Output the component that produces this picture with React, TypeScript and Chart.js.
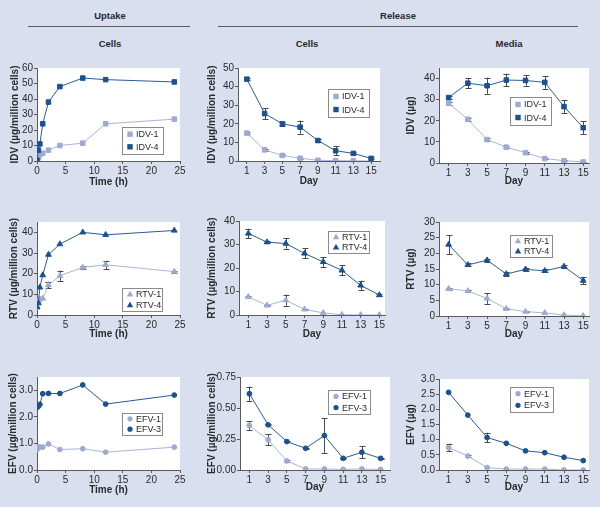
import React, { useEffect, useRef } from 'react';
import { Chart, registerables } from 'chart.js';
Chart.register(...registerables);

const FONT = '"Liberation Sans", Arial, Helvetica, sans-serif';
const DARK = '#1a5193';
const DARK_LINE = '#2a5c98';
const LIGHT = '#9eaad2';
const LIGHT_LINE = '#aab4da';
const BG = '#d9dfee';
const AXIS = '#5a5a5a';
const TXT = '#2a2a2a';

// ---------- data ----------
const uptakeHours = [0, 0.25, 0.5, 1, 2, 4, 8, 12, 24];
const days = [1, 3, 5, 7, 9, 11, 13, 15];
const hourTicks = [0, 5, 10, 15, 20, 25];
const dayTicks = [1, 3, 5, 7, 9, 11, 13, 15];

const idvUptake1 = [0.5, 2, 4, 5, 7, 10, 11.5, 24, 27];
const idvUptake4 = [0.5, 7, 11, 24, 38, 48, 53.5, 52.5, 51];

const idvCells1 = [15, 6, 3, 1.5, 0.4, 0.2, 0.1, 0];
const idvCells1Err = [0.6, 0.5, 0.5, 0.3, 0, 0, 0, 0];
const idvCells4 = [44, 25.5, 20, 18.2, 11, 5.5, 4.1, 1.4];
const idvCells4Err = [0.6, 3, 1, 3.5, 0.6, 2.5, 0.6, 0.5];

const idvMedia1 = [28.3, 20.7, 11.1, 7.5, 4.9, 2.1, 1.1, 0.5];
const idvMedia1Err = [0.8, 0.6, 0.6, 0.5, 0.4, 0.3, 0.3, 0.2];
const idvMedia4 = [31, 37.8, 36.6, 39.3, 39.1, 38.2, 26.7, 16.7];
const idvMedia4Err = [0.8, 2.5, 3.8, 3, 2.5, 3, 3, 3];

const rtvUptake1 = [3.5, 6.8, 7.6, 8, 14.5, 19, 23, 24.3, 21];
const rtvUptake1Err = [0, 0, 0, 0, 1.6, 2.5, 0.5, 2, 0.5];
const rtvUptake4 = [4, 5.7, 13.4, 19.3, 29.2, 34.3, 40, 38.8, 40.9];

const rtvCells1 = [7.7, 4.1, 6.3, 2.4, 0.9, 0.1, 0, 0];
const rtvCells1Err = [0.3, 0.3, 2.4, 0.3, 0, 0, 0, 0];
const rtvCells4 = [34.7, 31, 30.4, 26.2, 22.6, 19, 12.6, 8.5];
const rtvCells4Err = [2, 0.5, 2.2, 2.1, 2.1, 2.1, 2, 0.5];

const rtvMedia1 = [8.7, 8, 5.6, 2.3, 1.4, 1, 0.3, 0.05];
const rtvMedia1Err = [0.3, 0.3, 1.7, 0.2, 0.2, 0, 0, 0];
const rtvMedia4 = [22.8, 16.3, 17.8, 13.4, 14.9, 14.4, 15.8, 11.3];
const rtvMedia4Err = [3, 0.5, 0.5, 0.5, 0.5, 0.5, 0.5, 1.2];

const efvUptake1 = [0.76, 0.86, 0.86, 0.86, 0.98, 0.77, 0.8, 0.67, 0.86];
const efvUptake3 = [2.35, 2.4, 2.47, 2.87, 2.88, 2.88, 3.2, 2.48, 2.82];

const efvCells1 = [0.359, 0.243, 0.073, 0.008, 0.008, 0.005, 0.008, 0.005];
const efvCells1Err = [0.035, 0.045, 0.01, 0, 0, 0, 0, 0];
const efvCells3 = [0.615, 0.364, 0.229, 0.175, 0.278, 0.094, 0.143, 0.094];
const efvCells3Err = [0.058, 0.005, 0.005, 0.005, 0.14, 0.005, 0.047, 0.005];

const efvMedia1 = [0.74, 0.46, 0.08, 0.03, 0.03, 0.03, 0, 0];
const efvMedia1Err = [0.13, 0.02, 0, 0, 0, 0, 0, 0];
const efvMedia3 = [2.56, 1.81, 1.07, 0.88, 0.63, 0.57, 0.42, 0.31];
const efvMedia3Err = [0, 0, 0.16, 0, 0, 0, 0, 0];

// ---------- types ----------
type Style = 'rect' | 'triangle' | 'circle';
type Series = { label: string; x: number[]; y: number[]; err?: number[]; dark: boolean; style: Style };
type PanelCfg = {
  ca: { l: number; r: number; t: number; b: number };
  colX: number; yTitleX: number; xTitleY: number;
  xMin: number; xMax: number; xTicks: number[]; xTitle: string;
  yMax: number; yStep: number; yDec: number; yTitle: string;
  legend: { x: number; y: number; w: number; h: number };
  series: Series[];
};

const radiusFor = (s: Style) => (s === 'rect' ? 3.2 : s === 'triangle' ? 3.3 : 2.4);

// ---------- plugins ----------
const bgPlugin = {
  id: 'plotBg',
  beforeDraw(chart: any) {
    const { ctx, chartArea: a } = chart;
    ctx.save();
    ctx.fillStyle = '#ffffff';
    ctx.fillRect(a.left, a.top, a.right - a.left, a.bottom - a.top);
    ctx.restore();
  },
};

const errPlugin = {
  id: 'errBars',
  beforeDatasetsDraw(chart: any) {
    const { ctx } = chart;
    const ys = chart.scales.y;
    ctx.save();
    ctx.strokeStyle = '#4a4a4a';
    ctx.lineWidth = 1;
    chart.data.datasets.forEach((ds: any, i: number) => {
      const errs: number[] | undefined = ds.errors;
      if (!errs) return;
      const meta = chart.getDatasetMeta(i);
      meta.data.forEach((pt: any, j: number) => {
        const e = errs[j];
        if (!e) return;
        const v = ds.data[j].y;
        const x = Math.round(pt.x) + 0.5;
        const y1 = ys.getPixelForValue(v + e);
        const y2 = ys.getPixelForValue(Math.max(0, v - e));
        ctx.beginPath();
        ctx.moveTo(x, y1); ctx.lineTo(x, y2);
        ctx.moveTo(x - 3, Math.round(y1) + 0.5); ctx.lineTo(x + 3, Math.round(y1) + 0.5);
        ctx.moveTo(x - 3, Math.round(y2) + 0.5); ctx.lineTo(x + 3, Math.round(y2) + 0.5);
        ctx.stroke();
      });
    });
    ctx.restore();
  },
};

function drawMarker(ctx: CanvasRenderingContext2D, style: Style, x: number, y: number, color: string) {
  ctx.fillStyle = color;
  ctx.beginPath();
  if (style === 'rect') {
    ctx.rect(x - 2.7, y - 2.7, 5.4, 5.4);
  } else if (style === 'triangle') {
    ctx.moveTo(x, y - 3.3); ctx.lineTo(x + 3.2, y + 2.4); ctx.lineTo(x - 3.2, y + 2.4); ctx.closePath();
  } else {
    ctx.arc(x, y, 2.6, 0, Math.PI * 2);
  }
  ctx.fill();
}

const legendPlugin = {
  id: 'boxLegend',
  afterDraw(chart: any, _args: any, opts: any) {
    if (!opts || !opts.box) return;
    const { ctx } = chart;
    const { x, y, w, h } = opts.box;
    ctx.save();
    ctx.fillStyle = '#ffffff';
    ctx.fillRect(x, y, w, h);
    ctx.strokeStyle = '#8a8a8a';
    ctx.lineWidth = 1;
    ctx.strokeRect(Math.round(x) + 0.5, Math.round(y) + 0.5, w, h);
    ctx.font = `9px ${FONT}`;
    ctx.textBaseline = 'middle';
    const n = chart.data.datasets.length;
    const gap = h / (n + 0.1);
    chart.data.datasets.forEach((ds: any, i: number) => {
      const cy = y + h / 2 + (i - (n - 1) / 2) * gap * 0.98;
      drawMarker(ctx, ds.pointStyle, x + 8, cy, ds.pointBackgroundColor);
      ctx.fillStyle = TXT;
      ctx.fillText(ds.label, x + 14, cy + 0.5);
    });
    ctx.restore();
  },
};

// ---------- panel ----------
const PAD_TOP = 12;
const PAD_RIGHT = 10;
const X_AXIS_H = 34;

function Panel({ cfg }: { cfg: PanelCfg }) {
  const ref = useRef<HTMLCanvasElement>(null);
  const left = cfg.colX;
  const top = cfg.ca.t - PAD_TOP;
  const width = cfg.ca.r + PAD_RIGHT - left;
  const height = cfg.ca.b + X_AXIS_H - top;

  useEffect(() => {
    const yAxisW = cfg.ca.l - cfg.colX;
    const xTitlePad = top + height - cfg.xTitleY - 6;
    const yTitlePad = cfg.yTitleX - left - 6;
    const chart = new Chart(ref.current as HTMLCanvasElement, {
      type: 'line',
      data: {
        datasets: cfg.series.map((s) => ({
          label: s.label,
          data: s.x.map((x, i) => ({ x, y: s.y[i] })),
          borderColor: s.dark ? DARK_LINE : LIGHT_LINE,
          backgroundColor: s.dark ? DARK : LIGHT,
          pointBackgroundColor: s.dark ? DARK : LIGHT,
          pointBorderColor: s.dark ? DARK : LIGHT,
          pointStyle: s.style,
          pointRadius: radiusFor(s.style),
          pointBorderWidth: 1,
          borderWidth: 1,
          tension: 0,
          fill: false,
          errors: s.err,
          order: s.dark ? 0 : 1,
        })) as any,
      },
      options: {
        responsive: false,
        animation: false,
        events: [],
        layout: { padding: { top: PAD_TOP, right: PAD_RIGHT, left: 0, bottom: 0 } },
        plugins: {
          legend: { display: false },
          tooltip: { enabled: false },
          boxLegend: { box: { x: cfg.legend.x - left, y: cfg.legend.y - top, w: cfg.legend.w, h: cfg.legend.h } },
        } as any,
        scales: {
          x: {
            type: 'linear',
            min: cfg.xMin,
            max: cfg.xMax,
            afterFit: (s: any) => { s.height = X_AXIS_H; },
            afterBuildTicks: (s: any) => { s.ticks = cfg.xTicks.map((v) => ({ value: v })); },
            grid: { display: true, drawOnChartArea: false, drawTicks: true, tickLength: 3, color: AXIS, lineWidth: 1 },
            border: { display: true, color: AXIS, width: 1 },
            ticks: { font: { family: FONT, size: 10 }, color: TXT, padding: 1, maxRotation: 0, autoSkip: false },
            title: { display: true, text: cfg.xTitle, color: TXT, font: { family: FONT, size: 10, weight: 'bold' }, padding: { top: 0, bottom: xTitlePad } },
          },
          y: {
            type: 'linear',
            min: 0,
            max: cfg.yMax,
            afterFit: (s: any) => { s.width = yAxisW; },
            grid: { display: true, drawOnChartArea: false, drawTicks: true, tickLength: 3, color: AXIS, lineWidth: 1 },
            border: { display: true, color: AXIS, width: 1 },
            ticks: {
              stepSize: cfg.yStep,
              font: { family: FONT, size: 10 },
              color: TXT,
              padding: 1,
              callback: (v: any) => Number(v).toFixed(cfg.yDec),
            },
            title: { display: true, text: cfg.yTitle, color: TXT, font: { family: FONT, size: 10, weight: 'bold' }, padding: { top: yTitlePad, bottom: 0 } },
          },
        },
      } as any,
      plugins: [bgPlugin, errPlugin, legendPlugin],
    });
    return () => chart.destroy();
  }, []);

  return (
    <canvas
      ref={ref}
      width={width}
      height={height}
      style={{ position: 'absolute', left, top, width, height, display: 'block' }}
    />
  );
}

// ---------- panel configs ----------
const dayX = { xMin: 0, xTicks: dayTicks, xTitle: 'Day' };
const hourX = { xMin: 0, xMax: 25, xTicks: hourTicks, xTitle: 'Time (h)' };

const PANELS: PanelCfg[] = [
  {
    ca: { l: 37, r: 180, t: 68, b: 161 }, colX: 0, yTitleX: 15, xTitleY: 182, ...hourX,
    yMax: 60, yStep: 10, yDec: 0, yTitle: 'IDV (µg/million cells)',
    legend: { x: 122, y: 127, w: 41, h: 27 },
    series: [
      { label: 'IDV-1', x: uptakeHours, y: idvUptake1, dark: false, style: 'rect' },
      { label: 'IDV-4', x: uptakeHours, y: idvUptake4, dark: true, style: 'rect' },
    ],
  },
  {
    ca: { l: 238, r: 380, t: 68, b: 161 }, colX: 195, yTitleX: 212, xTitleY: 181, ...dayX, xMax: 16,
    yMax: 50, yStep: 5, yDec: 0, yTitle: 'IDV (µg/million cells)',
    legend: { x: 328, y: 89, w: 41, h: 28 },
    series: [
      { label: 'IDV-1', x: days, y: idvCells1, err: idvCells1Err, dark: false, style: 'rect' },
      { label: 'IDV-4', x: days, y: idvCells4, err: idvCells4Err, dark: true, style: 'rect' },
    ],
  },
  {
    ca: { l: 439, r: 589, t: 68, b: 163 }, colX: 395, yTitleX: 411, xTitleY: 181, ...dayX, xMax: 15.6,
    yMax: 45, yStep: 5, yDec: 0, yTitle: 'IDV (µg)',
    legend: { x: 510, y: 97, w: 41, h: 28 },
    series: [
      { label: 'IDV-1', x: days, y: idvMedia1, err: idvMedia1Err, dark: false, style: 'rect' },
      { label: 'IDV-4', x: days, y: idvMedia4, err: idvMedia4Err, dark: true, style: 'rect' },
    ],
  },
  {
    ca: { l: 37, r: 180, t: 222, b: 315 }, colX: 0, yTitleX: 14, xTitleY: 334, ...hourX,
    yMax: 45, yStep: 5, yDec: 0, yTitle: 'RTV (µg/million cells)',
    legend: { x: 122, y: 288, w: 40, h: 23 },
    series: [
      { label: 'RTV-1', x: uptakeHours, y: rtvUptake1, err: rtvUptake1Err, dark: false, style: 'triangle' },
      { label: 'RTV-4', x: uptakeHours, y: rtvUptake4, dark: true, style: 'triangle' },
    ],
  },
  {
    ca: { l: 239, r: 385, t: 221, b: 315 }, colX: 195, yTitleX: 212, xTitleY: 334, ...dayX, xMax: 15.6,
    yMax: 40, yStep: 5, yDec: 0, yTitle: 'RTV (µg/million cells)',
    legend: { x: 328, y: 231, w: 41, h: 22 },
    series: [
      { label: 'RTV-1', x: days, y: rtvCells1, err: rtvCells1Err, dark: false, style: 'triangle' },
      { label: 'RTV-4', x: days, y: rtvCells4, err: rtvCells4Err, dark: true, style: 'triangle' },
    ],
  },
  {
    ca: { l: 439, r: 589, t: 222, b: 316 }, colX: 395, yTitleX: 411, xTitleY: 334, ...dayX, xMax: 15.6,
    yMax: 30, yStep: 5, yDec: 0, yTitle: 'RTV (µg)',
    legend: { x: 510, y: 235, w: 42, h: 22 },
    series: [
      { label: 'RTV-1', x: days, y: rtvMedia1, err: rtvMedia1Err, dark: false, style: 'triangle' },
      { label: 'RTV-4', x: days, y: rtvMedia4, err: rtvMedia4Err, dark: true, style: 'triangle' },
    ],
  },
  {
    ca: { l: 37, r: 180, t: 377, b: 470 }, colX: 0, yTitleX: 13, xTitleY: 490, ...hourX,
    yMax: 3.5, yStep: 0.5, yDec: 1, yTitle: 'EFV (µg/million cells)',
    legend: { x: 122, y: 413, w: 40, h: 22 },
    series: [
      { label: 'EFV-1', x: uptakeHours, y: efvUptake1, dark: false, style: 'circle' },
      { label: 'EFV-3', x: uptakeHours, y: efvUptake3, dark: true, style: 'circle' },
    ],
  },
  {
    ca: { l: 240, r: 390, t: 377, b: 470 }, colX: 195, yTitleX: 212, xTitleY: 487, ...dayX, xMax: 16,
    yMax: 0.75, yStep: 0.25, yDec: 2, yTitle: 'EFV (µg/million cells)',
    legend: { x: 328, y: 390, w: 42, h: 24 },
    series: [
      { label: 'EFV-1', x: days, y: efvCells1, err: efvCells1Err, dark: false, style: 'circle' },
      { label: 'EFV-3', x: days, y: efvCells3, err: efvCells3Err, dark: true, style: 'circle' },
    ],
  },
  {
    ca: { l: 439, r: 589, t: 379, b: 470 }, colX: 395, yTitleX: 411, xTitleY: 487, ...dayX, xMax: 15.6,
    yMax: 3.0, yStep: 0.5, yDec: 1, yTitle: 'EFV (µg)',
    legend: { x: 510, y: 387, w: 43, h: 25 },
    series: [
      { label: 'EFV-1', x: days, y: efvMedia1, err: efvMedia1Err, dark: false, style: 'circle' },
      { label: 'EFV-3', x: days, y: efvMedia3, err: efvMedia3Err, dark: true, style: 'circle' },
    ],
  },
];

const headerStyle: React.CSSProperties = {
  position: 'absolute',
  fontFamily: FONT,
  fontWeight: 'bold',
  fontSize: '9.5px',
  color: TXT,
  transform: 'translate(-50%, -50%)',
  whiteSpace: 'nowrap',
  lineHeight: 1,
};

export default function App() {
  return (
    <div style={{ position: 'absolute', left: 0, top: 0, width: 600, height: 507, background: BG, overflow: 'hidden' }}>
      <div style={{ ...headerStyle, left: 110, top: 16 }}>Uptake</div>
      <div style={{ ...headerStyle, left: 398, top: 16 }}>Release</div>
      <div style={{ position: 'absolute', left: 28, top: 26, width: 162, height: 0, borderTop: `1px solid ${AXIS}` }} />
      <div style={{ position: 'absolute', left: 218, top: 26, width: 360, height: 0, borderTop: `1px solid ${AXIS}` }} />
      <div style={{ ...headerStyle, left: 110, top: 44 }}>Cells</div>
      <div style={{ ...headerStyle, left: 307, top: 44 }}>Cells</div>
      <div style={{ ...headerStyle, left: 509, top: 44 }}>Media</div>
      {PANELS.map((p, i) => (
        <Panel key={i} cfg={p} />
      ))}
    </div>
  );
}
